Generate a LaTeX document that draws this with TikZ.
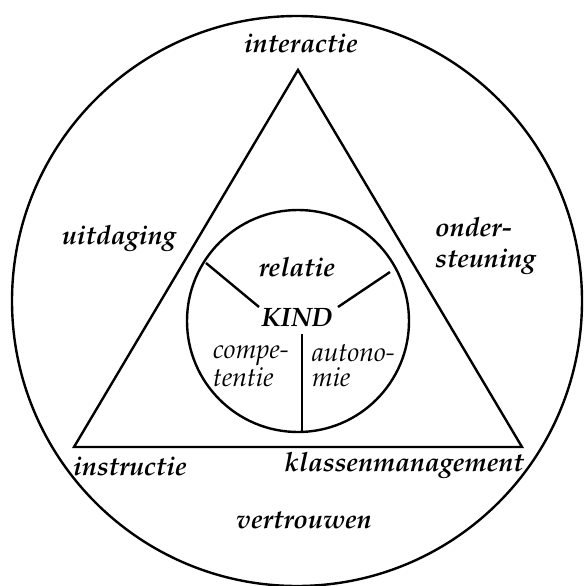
\documentclass[tikz,border=0pt]{standalone}
\usepackage[T1]{fontenc}
\usepackage{mathpazo}
\begin{document}
\begin{tikzpicture}[x=1pt,y=-1pt,
  shape line/.style={line width=2.4pt,line join=miter},
  lbl/.style={inner sep=0pt,font=\fontsize{26.6}{31}\selectfont\bfseries\itshape},
  sublbl/.style={inner sep=0pt,align=left,font=\fontsize{26.5}{25}\selectfont\itshape}]
\useasboundingbox (0,0) rectangle (584,586);
% outer circle
\node[shape line,draw,circle,minimum size=570pt,inner sep=0pt] (outer) at (297,301) {};
% triangle
\coordinate (A) at (298,70);
\coordinate (B) at (74,447);
\coordinate (C) at (522,447);
\draw[shape line] (A) -- (B) -- (C) -- cycle;
% inner circle
\node[shape line,draw,circle,minimum size=222pt,inner sep=0pt] (inner) at (298,321) {};
% spokes
\coordinate (s1a) at (206,263);
\coordinate (s1b) at (259,307);
\coordinate (s2a) at (390,272);
\coordinate (s2b) at (338,307);
\coordinate (s3a) at (302,334);
\coordinate (s3b) at (302,432);
\draw[shape line] (s1a) -- (s1b);
\draw[shape line] (s2a) -- (s2b);
\draw[shape line] (s3a) -- (s3b);
% labels
\node[lbl] (interactie) at (301,43) {interactie};
\node[lbl] (uitdaging) at (119,239) {uitdaging};
\node[lbl,align=left,anchor=west] (ondersteuning) at (435,246) {onder-\\steuning};
\node[lbl] (relatie) at (297,267) {relatie};
\node[lbl] (kind) at (297,318) {KIND};
\node[sublbl,anchor=west] (competentie) at (213,366) {compe-\\tentie};
\node[sublbl,anchor=west] (autonomie) at (312,366) {autono-\\mie};
\node[lbl,anchor=west] (instructie) at (73,466) {instructie};
\node[lbl,anchor=east] (klassen) at (524,466) {klassenmanagement};
\node[lbl] (vertrouwen) at (304,520) {vertrouwen};
\end{tikzpicture}
\end{document}
